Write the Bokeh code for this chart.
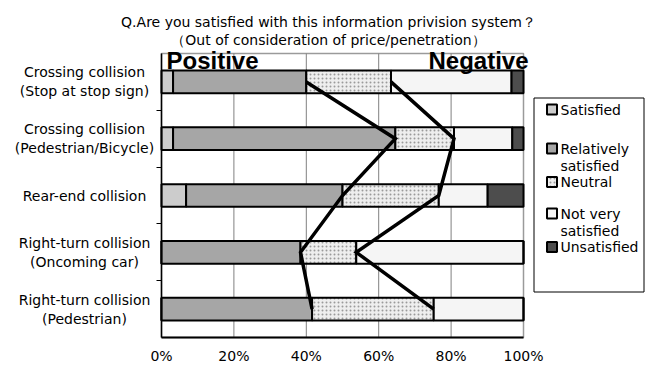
from bokeh.plotting import figure
from bokeh.models import Range1d, FixedTicker, Label, LinearAxis
from bokeh.embed import file_html
from bokeh.resources import INLINE
from bokeh.core.properties import value

# Survey answers (share of respondents, %), one value per scenario
categories = [
    "Crossing collision\n(Stop at stop sign)",
    "Crossing collision\n(Pedestrian/Bicycle)",
    "Rear-end collision",
    "Right-turn collision\n(Oncoming car)",
    "Right-turn collision\n(Pedestrian)",
]
levels = ["Satisfied", "Relatively\nsatisfied", "Neutral", "Not very\nsatisfied", "Unsatisfied"]
satisfied = [3.2, 3.2, 6.8, 0.0, 0.0]
relatively_satisfied = [36.8, 61.4, 43.2, 38.4, 41.6]
neutral = [23.4, 16.2, 26.6, 15.4, 33.6]
not_very_satisfied = [33.3, 16.1, 13.5, 46.2, 24.8]
unsatisfied = [3.3, 3.1, 9.9, 0.0, 0.0]

x_ticks = [0, 20, 40, 60, 80, 100]
x_tick_labels = ["0%", "20%", "40%", "60%", "80%", "100%"]

title_lines = [
    "Q.Are you satisfied with this information privision system\uff1f",
    "\uff08Out of consideration of price/penetration\uff09",
]

FONT = "DejaVu Sans"
level_colors = ["#cccccc", "#a6a6a6", "#eeeeee", "#f5f5f5", "#4d4d4d"]
level_hatch = [" ", " ", "dot", " ", " "]
HATCH = dict(hatch_color="#9a9a9a", hatch_scale=4, hatch_weight=1)

series = [satisfied, relatively_satisfied, neutral, not_very_satisfied, unsatisfied]
n = len(categories)
ys = [n - k - 0.5 for k in range(n)]

# page geometry (pixels): the bar area sits inside a full-page canvas
W, H = 648, 365
AREA_L, AREA_R, AREA_T, AREA_B = 161, 523, 53, 337
x_per_px = 100 / (AREA_R - AREA_L)
y_per_px = n / (AREA_B - AREA_T)

p = figure(
    width=W, height=H,
    x_range=Range1d(-AREA_L * x_per_px, (W - AREA_L) * x_per_px),
    y_range=Range1d(-(H - AREA_B) * y_per_px, n + AREA_T * y_per_px),
    x_axis_location=None, y_axis_location=None,
    output_backend="svg", toolbar_location=None, min_border=0,
)
p.extra_x_ranges = {"px": Range1d(0, W)}
p.extra_y_ranges = {"px": Range1d(H, 0)}
p.background_fill_color = "white"
p.border_fill_color = "white"
p.outline_line_color = None
p.xgrid.grid_line_color = None
p.ygrid.grid_line_color = None

# plot area border and vertical grid lines
p.quad(left=[0], right=[100], bottom=[0], top=[n], fill_color=None,
       line_color="#9a9a9a", line_width=1.5)
p.segment(x0=x_ticks[1:-1], x1=x_ticks[1:-1], y0=[0] * 4, y1=[n] * 4,
          line_color="#808080", line_width=1)

# stacked horizontal bars
left = [0.0] * n
for vals, col, hatch in zip(series, level_colors, level_hatch):
    right = [l + v for l, v in zip(left, vals)]
    p.hbar(y=ys, left=left, right=right, height=0.4,
           fill_color=col, line_color="black", line_width=2,
           hatch_pattern=hatch, **HATCH)
    left = right

# boundary lines: positive share and positive + neutral share
positive_total = [a + b for a, b in zip(satisfied, relatively_satisfied)]
neutral_total = [a + b for a, b in zip(positive_total, neutral)]
p.line(x=positive_total, y=ys, line_color="black", line_width=3.5, line_join="miter")
p.line(x=neutral_total, y=ys, line_color="black", line_width=3.5, line_join="miter")

# axes drawn along the edges of the bar area
xaxis = LinearAxis(fixed_location=0, bounds=(0, 100), ticker=FixedTicker(ticks=x_ticks))
xaxis.major_label_overrides = {t: s for t, s in zip(x_ticks, x_tick_labels)}
xaxis.major_tick_out = 0
xaxis.major_tick_in = 0
xaxis.axis_line_color = "black"
xaxis.axis_line_width = 2
xaxis.major_label_text_font = FONT
xaxis.major_label_text_font_size = "14px"
xaxis.major_label_text_color = "black"
xaxis.major_label_standoff = 10
p.add_layout(xaxis, "below")

yaxis = LinearAxis(fixed_location=0, bounds=(0, n),
                   ticker=FixedTicker(ticks=[], minor_ticks=list(range(1, n))))
yaxis.major_tick_out = 0
yaxis.major_tick_in = 0
yaxis.minor_tick_out = 5
yaxis.minor_tick_in = 0
yaxis.minor_tick_line_color = "black"
yaxis.minor_tick_line_width = 1
yaxis.axis_line_color = "black"
yaxis.axis_line_width = 1.5
p.add_layout(yaxis, "left")

p.add_layout(Label(x=0, y=n, x_offset=5, y_offset=-6.5, text="Positive",
                   text_font="Liberation Sans", text_font_style="bold",
                   text_font_size="24px", text_baseline="alphabetic", text_color="black"))
p.add_layout(Label(x=100, y=n, x_offset=5, y_offset=-6.5, text="Negative",
                   text_font="Liberation Sans", text_font_style="bold", text_align="right",
                   text_font_size="24px", text_baseline="alphabetic", text_color="black"))

# scenario names, centred lines
for name, yv in zip(categories, ys):
    p.add_layout(Label(x=84, y=yv, x_range_name="px", text=name, text_align="center",
                       text_baseline="middle", text_font=FONT, text_font_size="14px",
                       text_color="black", text_line_height=1.2))

# title
for line, yv in zip(title_lines, [21, 39]):
    p.add_layout(Label(x=328, y=yv, x_range_name="px", y_range_name="px", text=line,
                       text_align="center", text_baseline="middle",
                       text_font=FONT, text_font_size="14px", text_color="black"))

# legend
p.quad(left=[533.5], right=[643.5], top=[97.5], bottom=[291.5],
       fill_color="white", line_color="black", line_width=1,
       x_range_name="px", y_range_name="px")
entry_y = [109, 148, 181.5, 213, 246.5]
for lab, yv, col, hatch in zip(levels, entry_y, level_colors, level_hatch):
    p.rect(x=[551.5], y=[yv], width=10, height=10, fill_color=col,
           line_color="black", line_width=2, hatch_pattern=hatch, **HATCH,
           x_range_name="px", y_range_name="px")
    parts = lab.split("\n")
    p.text(x=[560] * len(parts), y=[yv + 17 * i for i in range(len(parts))], text=parts,
           text_font=value(FONT), text_font_size="14px", text_baseline="middle",
           text_color="black", x_range_name="px", y_range_name="px")

open("out.html", "w").write(file_html(p, INLINE))
